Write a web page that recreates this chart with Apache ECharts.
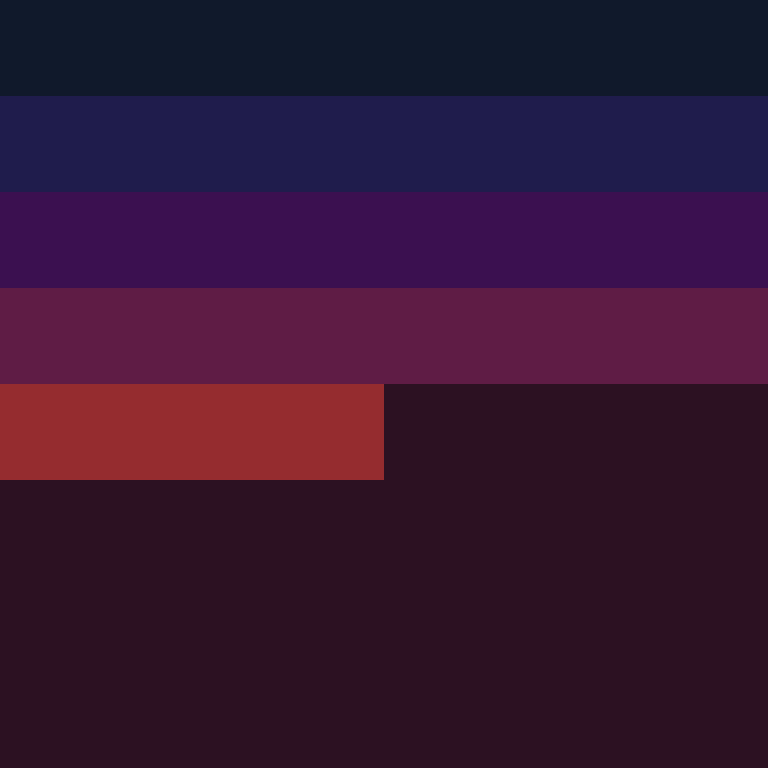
<!DOCTYPE html>
<html>
    <head>
        <meta charset="utf-8">
        <title>ECharts</title>
        <script src="https://cdn.jsdelivr.net/npm/echarts@6/dist/echarts.min.js"></script>
        <style>
            html, body { margin: 0; padding: 0; background: #2c1122; }
        </style>
    </head>
    <body>
        <div id="main" style="width:768px;height:768px;"></div>

        <script type="text/javascript">
            // rows, top to bottom
            var rows = ['r1', 'r2', 'r3', 'r4', 'r5', 'r6', 'r7', 'r8'];
            var values = [1, 1, 1, 1, 0.5, 0, 0, 0];
            var colors = ['#10192b', '#1f1c4c', '#3b1050', '#5f1c45', '#952c2f', '#2c1122', '#2c1122', '#2c1122'];

            var myChart = echarts.init(document.getElementById('main'));
            myChart.setOption({
                backgroundColor: '#2c1122',
                animation: false,
                grid: { left: 0, right: 0, top: 0, bottom: 0 },
                xAxis: {
                    type: 'value',
                    min: 0,
                    max: 1,
                    show: false
                },
                yAxis: {
                    type: 'category',
                    inverse: true,
                    data: rows,
                    show: false
                },
                series: [{
                    type: 'bar',
                    barWidth: '100%',
                    data: values.map(function (v, i) {
                        return { value: v, itemStyle: { color: colors[i] } };
                    })
                }]
            });
        </script>
    </body>
</html>
